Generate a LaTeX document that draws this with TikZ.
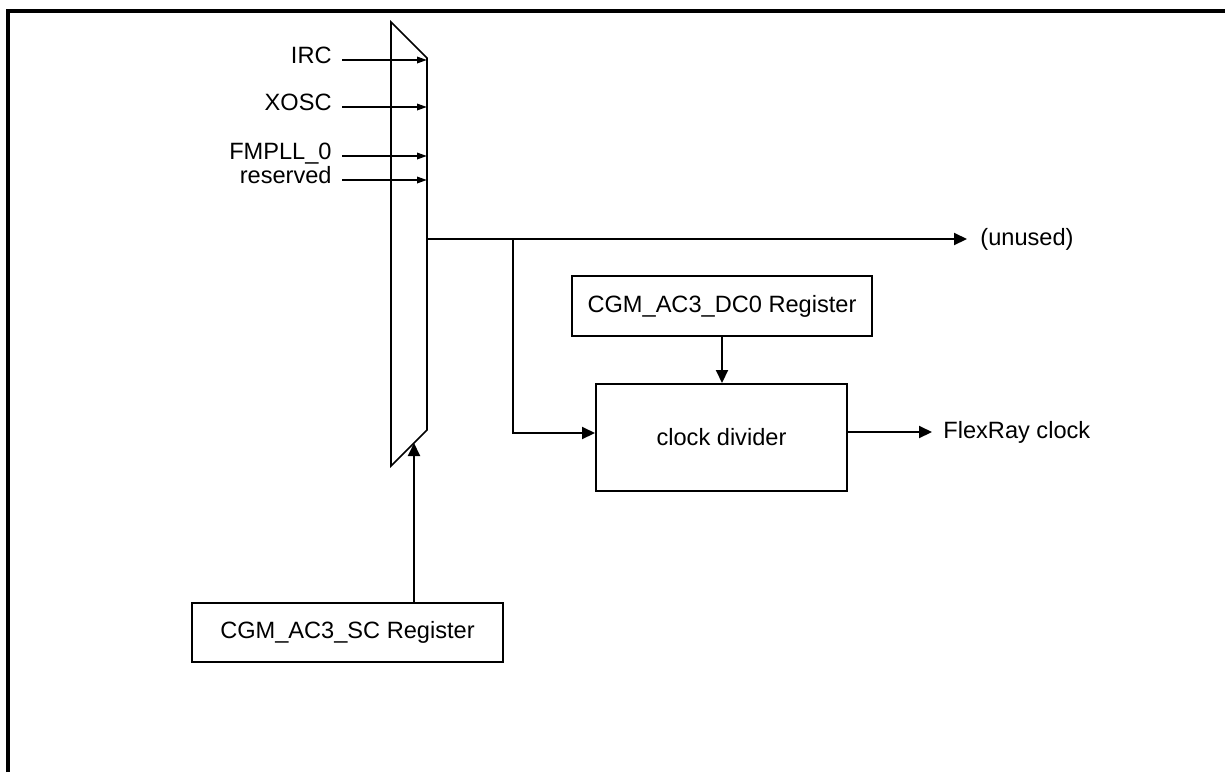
\documentclass[tikz,border=0pt]{standalone}
\usepackage{fontspec}
\setmainfont{Liberation Sans}
\usetikzlibrary{arrows.meta}

\tikzset{
  txt/.style={font=\fontsize{11.8}{14}\selectfont},
  reg/.style={txt, draw, line width=1pt, inner sep=0pt},
  inlbl/.style={txt, anchor=base east, inner xsep=5pt, inner ysep=0pt},
  outlbl/.style={txt, anchor=west, inner sep=0pt},
  sig/.style={line width=1pt, -{Triangle[length=6.5pt,width=6pt]}},
  insig/.style={line width=1pt, -{Triangle[length=5pt,width=3.2pt]}}
}

\begin{document}
\begin{tikzpicture}[x=0.5pt,y=-0.5pt]
    \useasboundingbox (0,0) rectangle (1225,772);
    \draw[line width=1.6pt] (8,772) -- (8,11) -- (1225,11);
    \coordinate (m1) at (391,22);
    \coordinate (m2) at (427,58);
    \coordinate (m3) at (427,430);
    \coordinate (m4) at (391,466);
    \draw[line width=0.8pt] (m1) -- (m2) -- (m3) -- (m4) -- cycle;
    \coordinate (i1) at (427,60);
    \coordinate (i2) at (427,107);
    \coordinate (i3) at (427,156);
    \coordinate (i4) at (427,180);
    \node[inlbl] (irc) at (342,63) {IRC};
    \node[inlbl] (xosc) at (342,110) {XOSC};
    \node[inlbl] (fmpll) at (342,159) {FMPLL\_0};
    \node[inlbl] (rsvd) at (342,183) {reserved};
    \draw[insig] (irc.east |- i1) -- (i1);
    \draw[insig] (xosc.east |- i2) -- (i2);
    \draw[insig] (fmpll.east |- i3) -- (i3);
    \draw[insig] (rsvd.east |- i4) -- (i4);
    \coordinate (mo) at (427,239);
    \coordinate (br) at (513,239);
    \node[outlbl, inner xsep=6.5pt] (unused) at (967,239) {(unused)};
    \draw[sig] (mo) -- (unused.west);
    \node[reg, minimum width=150pt, minimum height=30pt] (dc0) at (722,306) {CGM\_AC3\_DC0 Register};
    \node[reg, minimum width=125.5pt, minimum height=53.5pt] (div) at (721.5,437.5) {clock divider};
    \node[reg, minimum width=155.5pt, minimum height=29.5pt] (sc) at (347.5,632.5) {CGM\_AC3\_SC Register};
    \draw[sig] (br) |- ([yshift=2.25pt]div.west);
    \draw[sig] (dc0.south) -- (dc0.south |- div.north);
    \node[outlbl, inner xsep=5.5pt] (flex) at (932,432) {FlexRay clock};
    \draw[sig] ([yshift=2.75pt]div.east) -- (flex.west);
    \coordinate (sel) at (414,443);
    \draw[sig] (sc.north -| sel) -- (sel);
\end{tikzpicture}
\end{document}
